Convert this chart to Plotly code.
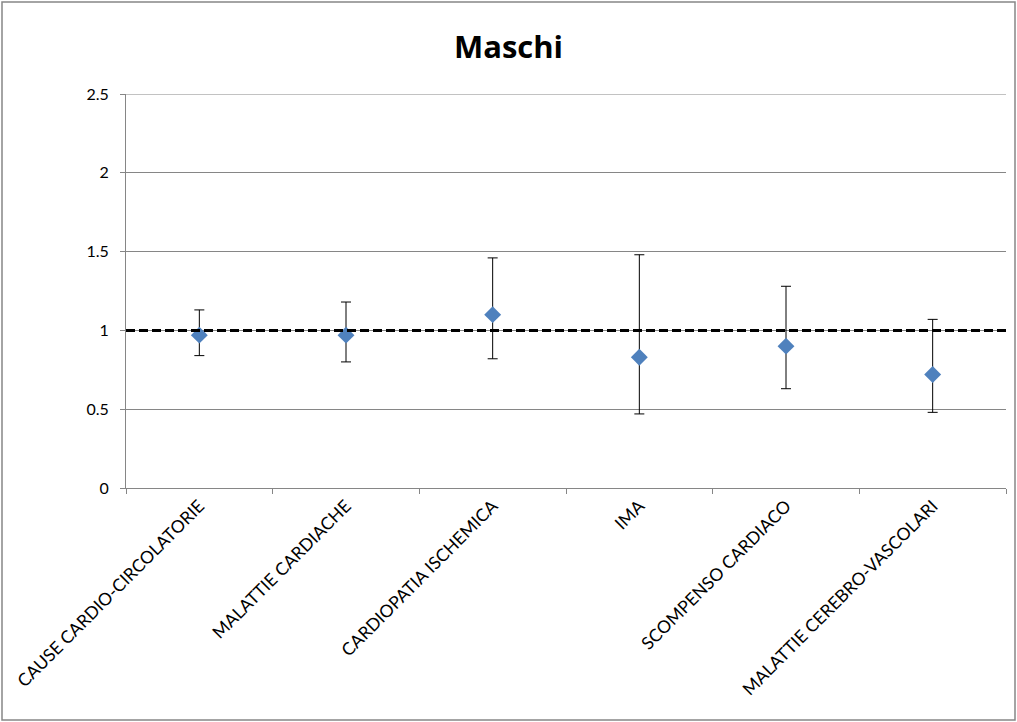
import plotly.graph_objects as go

# Categories and estimates (relative risk with 95% CI) for males
categories = [
    "CAUSE CARDIO-CIRCOLATORIE",
    "MALATTIE CARDIACHE",
    "CARDIOPATIA ISCHEMICA",
    "IMA",
    "SCOMPENSO CARDIACO",
    "MALATTIE CEREBRO-VASCOLARI",
]
estimates = [0.97, 0.97, 1.10, 0.83, 0.90, 0.72]
upper_ci = [1.13, 1.18, 1.46, 1.48, 1.28, 1.07]
lower_ci = [0.84, 0.80, 0.82, 0.47, 0.63, 0.48]
reference_level = 1.0
y_ticks = [0, 0.5, 1, 1.5, 2, 2.5]
y_max = 2.5

W, H = 1017, 722
L, R, T, B = 126, 11, 94, 234
pw, ph = W - L - R, H - T - B

err_plus = [u - e for u, e in zip(upper_ci, estimates)]
err_minus = [e - l for e, l in zip(estimates, lower_ci)]

fig = go.Figure()
fig.add_trace(go.Scatter(
    x=categories,
    y=estimates,
    mode="markers",
    marker=dict(symbol="diamond", size=13, color="#4F81BD"),
    error_y=dict(type="data", symmetric=False, array=err_plus, arrayminus=err_minus,
                 color="#000000", thickness=1, width=5),
    showlegend=False,
))

# Top gridline at the upper end of the value axis
fig.add_shape(type="line", xref="paper", yref="y", x0=0, x1=1, y0=y_max, y1=y_max,
              line=dict(color="#868686", width=1), layer="below")

# Reference line at RR = 1 across the full plotting area
fig.add_shape(type="line", xref="paper", yref="y", x0=0, x1=1,
              y0=reference_level, y1=reference_level,
              line=dict(color="#000000", width=3, dash="9px,4px"))

# Outer chart border
fig.add_shape(type="rect", xref="paper", yref="paper",
              x0=(2 - L) / pw, x1=(W - 2 - L) / pw,
              y0=-(H - 2 - T - ph) / ph, y1=1 + (T - 2) / ph,
              line=dict(color="#868686", width=1.5), fillcolor="rgba(0,0,0,0)")

fig.update_layout(
    width=W, height=H,
    margin=dict(l=L, r=R, t=T, b=B),
    paper_bgcolor="white", plot_bgcolor="white",
    font=dict(family="Lato, Open Sans, sans-serif", color="#000000"),
    title=dict(text="<b>Maschi</b>", x=0.5, xref="container", xanchor="center",
               y=1 - 47 / H, yanchor="middle",
               font=dict(size=31, family="Open Sans, Lato, sans-serif")),
)
fig.update_xaxes(
    type="category", tickson="boundaries", ticks="outside", ticklen=5,
    tickcolor="#868686", showline=True, linecolor="#868686", linewidth=1,
    showgrid=False, tickangle=-45, tickfont=dict(size=17.5), range=[-0.5, 5.5],
)
fig.update_yaxes(
    range=[0, y_max], tickvals=y_ticks, ticktext=[f"{v:g}" for v in y_ticks],
    ticks="outside", ticklen=5, tickcolor="#868686", ticklabelstandoff=8,
    showline=True, linecolor="#868686", linewidth=1,
    showgrid=True, gridcolor="#868686", gridwidth=1,
    zeroline=False, tickfont=dict(size=16),
)

fig.write_html("out.html")
